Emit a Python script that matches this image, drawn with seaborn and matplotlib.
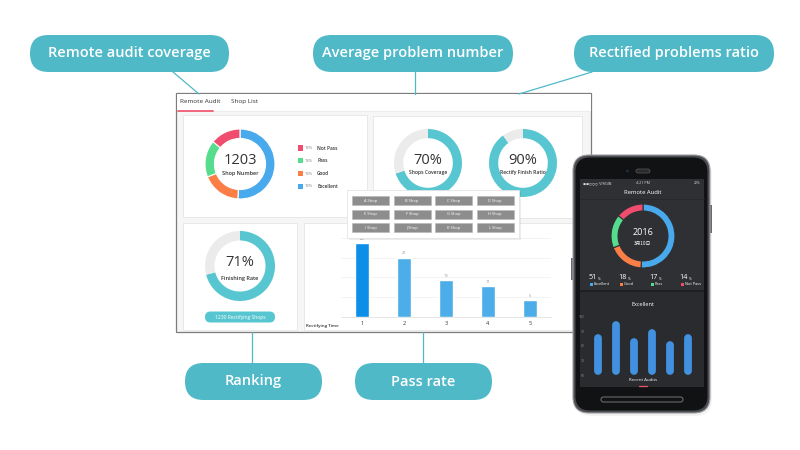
import matplotlib
matplotlib.use('Agg')
import numpy as np
import pandas as pd
import matplotlib.pyplot as plt
from matplotlib.patches import FancyBboxPatch, Rectangle, Circle
import seaborn as sns

# ---- data ----
callout_labels = ['Remote audit coverage', 'Average problem number', 'Rectified problems ratio',
                  'Ranking', 'Pass rate']
audit_levels = ['Excellent', 'Good', 'Pass', 'Not Pass']
audit_share = [51, 18, 17, 14]
audit_colors = ['#48aaec', '#fb7e46', '#55dc8c', '#f04c6e']
legend_pct = ['13%', '13%', '13%', '13%']
shop_total = '1203'
shops_coverage = 70
rectify_finish = 90
finishing_rate = 71
rectifying_shops = '1230'
rect_times = ['1', '2', '3', '4', '5']
rect_counts = [26, 21, 13, 11, 6]
shop_buttons = ['A Shop', 'B Shop', 'C Shop', 'D Shop', 'E Shop', 'F Shop',
                'G Shop', 'H Shop', 'I Shop', 'J Shop', 'K Shop', 'L Shop']
phone_year = '2016'
phone_date = '3月10日'
recent_audits = ['a1', 'a2', 'a3', 'a4', 'a5', 'a6']
recent_scores = [88, 97, 85, 91, 83, 88]
score_ticks = [60, 70, 80, 90, 100]

TEAL = '#50b9c8'
GAUGE = '#58c6d0'
W, H = 800, 450

sns.set_theme(style='white')
plt.rcParams['font.family'] = ['Open Sans', 'DejaVu Sans']

fig = plt.figure(figsize=(8, 4.5), dpi=100)
fig.patch.set_facecolor('white')


def layer():
    ax = fig.add_axes([0, 0, 1, 1])
    ax.set_xlim(0, W)
    ax.set_ylim(H, 0)
    ax.axis('off')
    return ax


def box_axes(x0, y0, x1, y1):
    return fig.add_axes([x0 / W, 1 - y1 / H, (x1 - x0) / W, (y1 - y0) / H])


def rbox(ax, x0, y0, x1, y1, r, fc, ec='none', lw=0):
    ax.add_patch(FancyBboxPatch((x0, y0), x1 - x0, y1 - y0,
                                boxstyle=f'round,pad=0,rounding_size={r}',
                                fc=fc, ec=ec, lw=lw))


def ring(cx, cy, r, vals, colors, width, edge='none', elw=0):
    m = 1.04
    ax = box_axes(cx - r * m, cy - r * m, cx + r * m, cy + r * m)
    ax.pie(vals, colors=colors, startangle=90, counterclock=False,
           wedgeprops=dict(width=width, edgecolor=edge, linewidth=elw))
    ax.set_xlim(-m, m)
    ax.set_ylim(-m, m)
    return ax


# ---- base layer: callouts, frame, cards ----
base = layer()
top_pills = [(30, 229), (313, 513), (574, 774)]
for (x0, x1), lab in zip(top_pills, callout_labels[:3]):
    rbox(base, x0, 35, x1, 72, 18.5, TEAL)
    base.text((x0 + x1) / 2, 53.5, lab, ha='center', va='center', color='white',
              fontsize=10.5, fontweight='semibold')
bot_pills = [(185, 322), (355, 492)]
for (x0, x1), lab in zip(bot_pills, callout_labels[3:]):
    rbox(base, x0, 363, x1, 400, 18.5, TEAL)
    base.text((x0 + x1) / 2, 381.5, lab, ha='center', va='center', color='white',
              fontsize=10.5, fontweight='semibold')
base.plot([173, 199], [72, 94], color=TEAL, lw=0.9)
base.plot([415, 415], [72, 94], color=TEAL, lw=0.9)
base.plot([592, 519], [72, 94], color=TEAL, lw=0.9)
base.plot([252, 252], [332, 363], color=TEAL, lw=0.9)
base.plot([423, 423], [332, 363], color=TEAL, lw=0.9)

base.add_patch(Rectangle((176, 93), 415, 239, fc='#f6f6f6', ec='#7c7c7c', lw=0.9))
base.add_patch(Rectangle((176.5, 93.5), 414, 17.5, fc='white', ec='none'))
base.plot([177, 590], [111, 111], color='#ececec', lw=0.6)
base.plot([178, 213], [110.6, 110.6], color='#f05a72', lw=1.3)
base.text(180, 101.5, 'Remote Audit', fontsize=4.6, color='#333', va='center')
base.text(231, 101.5, 'Shop List', fontsize=4.6, color='#333', va='center')

for x0, y0, x1, y1 in [(183, 115, 367, 217), (373, 116, 582, 218),
                       (183, 223, 297, 330), (304, 223, 588, 330)]:
    base.add_patch(Rectangle((x0, y0), x1 - x0, y1 - y0, fc='white', ec='#e8e8e8', lw=0.7))

# legend of card 1 (top to bottom: Not Pass, Pass, Good, Excellent)
for i, (lvl, col, pct) in enumerate(zip(audit_levels[::-1], audit_colors[::-1], legend_pct)):
    y = 148 + i * 12.8
    base.add_patch(Rectangle((297.5, y - 2.6), 5.2, 5.2, fc=col, ec='none'))
    base.text(305, y, pct, fontsize=3, color='#777', va='center')
    base.text(317, y, lvl, fontsize=3.4, color='#333', va='center', fontweight='semibold')

# ---- donuts ----
ax = ring(240, 164, 35, audit_share, audit_colors, 0.27, edge='white', elw=0.8)
ax.text(0, 0.09, shop_total, ha='center', va='center', fontsize=10.5, color='#333')
ax.text(0, -0.27, 'Shop Number', ha='center', va='center', fontsize=4, color='#333',
        fontweight='semibold')

ax = ring(428, 163, 34, [shops_coverage, 100 - shops_coverage], [GAUGE, '#ebebeb'], 0.27)
ax.text(0, 0.06, f'{shops_coverage}%', ha='center', va='center', fontsize=10.5, color='#333')
ax.text(0, -0.27, 'Shops Coverage', ha='center', va='center', fontsize=3.6, color='#333',
        fontweight='semibold')

ax = ring(523, 163, 34, [rectify_finish, 100 - rectify_finish], [GAUGE, '#ebebeb'], 0.27)
ax.text(0, 0.06, f'{rectify_finish}%', ha='center', va='center', fontsize=10.5, color='#333')
ax.text(0, -0.27, 'Rectify Finish Ratio', ha='center', va='center', fontsize=3.6, color='#333',
        fontweight='semibold')

ax = ring(240, 266, 35, [finishing_rate, 100 - finishing_rate], [GAUGE, '#ebebeb'], 0.27)
ax.text(0, 0.09, f'{finishing_rate}%', ha='center', va='center', fontsize=10.5, color='#333')
ax.text(0, -0.36, 'Finishing Rate', ha='center', va='center', fontsize=4, color='#333',
        fontweight='semibold')

# ---- rectifying-time bar chart ----
ax = box_axes(341, 232, 551, 317)
df = pd.DataFrame({'time': rect_times, 'count': rect_counts})
pal = ['#0d8fe8'] + ['#4dade9'] * (len(rect_times) - 1)
sns.barplot(data=df, x='time', y='count', hue='time', palette=pal, legend=False,
            width=0.34, saturation=1, ax=ax)
for c in ax.containers:
    ax.bar_label(c, fontsize=3, color='#999', padding=1.5)
ax.set_ylim(0, 30)
ax.set_xlim(-0.5, len(rect_times) - 0.5)
ax.set_yticks([7, 14, 21, 28])
ax.set_yticklabels([])
ax.grid(axis='y', color='#f1f1f1', lw=0.6)
ax.set_axisbelow(True)
ax.tick_params(axis='both', length=0)
ax.tick_params(axis='x', labelsize=4, pad=3, labelcolor='#333')
ax.set_xlabel('')
ax.set_ylabel('')
sns.despine(ax=ax, left=True)
ax.spines['bottom'].set_color('#e2e2e2')
ax.spines['bottom'].set_linewidth(0.6)
ax.patch.set_visible(False)

# ---- overlay: pill button, axis title, shop popup ----
over = layer()
rbox(over, 205, 311.5, 275, 322.5, 5.5, GAUGE)
over.text(240, 317, f'{rectifying_shops} Rectifying Shops', ha='center', va='center',
          fontsize=3.6, color='white')
over.text(306, 325.5, 'Rectifying Time', fontsize=3.2, color='#333', va='center',
          fontweight='semibold')

over.add_patch(Rectangle((348.5, 191.5), 172, 48, fc='#00000012', ec='none'))
over.add_patch(Rectangle((347, 190), 172, 48, fc='white', ec='#e4e4e4', lw=0.6))
for i, lab in enumerate(shop_buttons):
    r, c = divmod(i, 4)
    x0 = 352 + c * 41.5
    y0 = 196 + r * 13.7
    over.add_patch(Rectangle((x0, y0), 37, 9, fc='#8d8d8d', ec='#b5b5b5', lw=0.4))
    over.text(x0 + 18.5, y0 + 4.6, lab, ha='center', va='center', fontsize=2.9, color='white')

# ---- phone ----
ph = layer()
rbox(ph, 575, 158, 712, 416, 17, '#0000000d')
ph.add_patch(Rectangle((571, 258), 3, 22, fc='#6a6a6e', ec='none'))
ph.add_patch(Rectangle((709, 205), 3, 28, fc='#6a6a6e', ec='none'))
rbox(ph, 573, 155, 710, 413, 16, '#4b4c50', ec='#a0a0a4', lw=0.8)
rbox(ph, 575.5, 157.5, 707.5, 410.5, 14.5, '#111214')
ph.add_patch(Rectangle((580, 179), 124, 112, fc='#2e3034', ec='none'))
ph.add_patch(Rectangle((580, 291), 124, 96, fc='#2a2b2f', ec='none'))
ph.plot([580, 704], [291, 291], color='#1b1c1f', lw=1.2)
ph.plot([580, 704], [199, 199], color='#26282b', lw=0.6)
rbox(ph, 636, 169, 650, 173, 2, '#2a2a2e', ec='#5a5a5e', lw=0.5)
ph.add_patch(Circle((627.5, 171), 1.3, fc='#23304a', ec='none'))
rbox(ph, 601, 397, 683, 402, 2.5, 'none', ec='#6a6a6e', lw=0.8)

ph.text(583, 183.5, '●●○○○ VIRGIN', fontsize=2.5, color='#d8d8d8', va='center',
        family='DejaVu Sans')
ph.text(643, 183.5, '4:21 PM', fontsize=2.6, color='#d8d8d8', va='center', ha='center')
ph.text(701, 183.5, '22%', fontsize=2.5, color='#d8d8d8', va='center', ha='right')
ph.text(643, 192, 'Remote Audit', fontsize=4.2, color='white', va='center', ha='center')

stat_x = [590, 620, 651, 681]
for bx, lvl, v, col in zip(stat_x, audit_levels, audit_share, audit_colors):
    ph.text(bx + 7, 277.5, str(v), fontsize=5.2, color='white', ha='right', va='center')
    ph.text(bx + 7.5, 278.5, '%', fontsize=2.6, color='white', ha='left', va='center')
    ph.add_patch(Rectangle((bx, 283), 2.6, 2.6, fc=col, ec='none'))
    ph.text(bx + 4, 284.4, lvl, fontsize=2.8, color='white', va='center')

ph.text(643, 304, 'Excellent', fontsize=4, color='white', ha='center', va='center')
ph.text(643, 380, 'Recent Audits', fontsize=3.2, color='white', ha='center', va='center')
ph.plot([639, 647], [386, 386], color='#e0506a', lw=1)

ax = ring(643, 236, 32, audit_share, audit_colors, 0.22, edge='#2e3034', elw=0.8)
ax.text(0, 0.1, phone_year, ha='center', va='center', fontsize=6.5, color='white')
ax.text(0, -0.22, phone_date, ha='center', va='center', fontsize=3.4, color='white',
        family=['Noto Sans CJK SC', 'DejaVu Sans'])

# phone bar chart with rounded bars
ax = box_axes(589, 312, 697, 378)
sns.barplot(x=recent_audits, y=recent_scores, color='#4291e0', saturation=1, width=0.45, ax=ax)
ax.set_ylim(58, 103)
ax.set_xlim(-0.5, len(recent_audits) - 0.5)
lw_pt = 5.6
px_per_unit = 66 / 45
cap = lw_pt * 100 / 72 / 2 / px_per_unit
for p in ax.patches:
    xc = p.get_x() + p.get_width() / 2
    p.set_visible(False)
    ax.plot([xc, xc], [score_ticks[0] + cap, p.get_height() - cap], color='#4291e0',
            lw=lw_pt, solid_capstyle='round')
ax.set_yticks(score_ticks)
ax.set_yticklabels([str(t) for t in score_ticks])
ax.set_xticklabels([])
ax.tick_params(axis='both', length=0)
ax.tick_params(axis='y', labelsize=2.4, labelcolor='#8a8a8a', pad=3)
ax.set_xlabel('')
ax.set_ylabel('')
sns.despine(ax=ax, left=True, bottom=True)
ax.patch.set_visible(False)

fig.savefig('out.png', dpi=100, facecolor='white')
